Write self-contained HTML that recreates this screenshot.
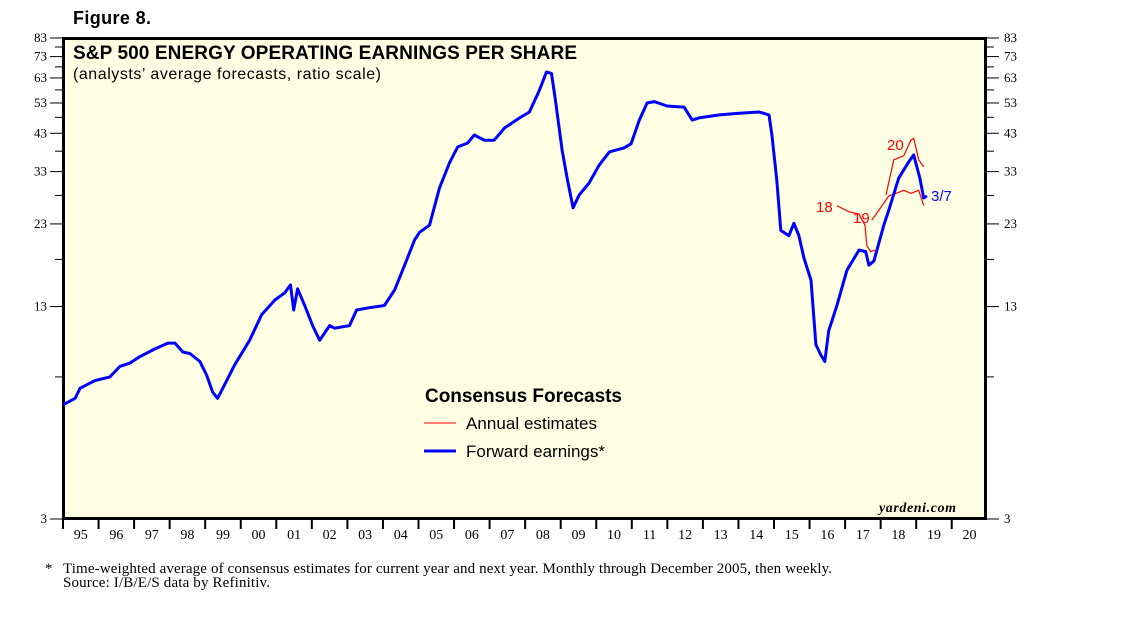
<!DOCTYPE html>
<html><head><meta charset="utf-8"><style>
body{margin:0;background:#fff;}
svg{display:block;font-family:"Liberation Sans",sans-serif;}
</style></head><body>
<svg id="chart" width="1138" height="621" viewBox="0 0 1138 621">
<text x="73" y="24" font-size="18" font-weight="bold" textLength="78">Figure 8.</text>
<rect x="63.5" y="38.5" width="922" height="480" fill="#ffffe3" stroke="#000" stroke-width="3"/>
<text x="73" y="59" font-size="19" font-weight="bold" textLength="504">S&amp;P 500 ENERGY OPERATING EARNINGS PER SHARE</text>
<text x="73" y="79" font-size="16" textLength="308">(analysts’ average forecasts, ratio scale)</text>
<g id="axes"></g>
<g id="series"></g>
<text x="425" y="402" font-size="19" font-weight="bold" textLength="197">Consensus Forecasts</text>
<line x1="424" y1="423" x2="456" y2="423" stroke="#f00" stroke-width="1"/>
<text x="466" y="429" font-size="17" textLength="131">Annual estimates</text>
<line x1="424" y1="451" x2="456" y2="451" stroke="#00f" stroke-width="3"/>
<text x="466" y="457" font-size="17" textLength="139">Forward earnings*</text>
<text x="879" y="512" font-size="14" font-weight="bold" font-style="italic" font-family="Liberation Serif,serif" textLength="77">yardeni.com</text>
<text x="816" y="212" font-size="15" fill="#f00">18</text>
<text x="853" y="223" font-size="15" fill="#f00">19</text>
<text x="887" y="150" font-size="15" fill="#f00">20</text>
<text x="931" y="201" font-size="15" fill="#00f">3/7</text>
<text x="45" y="573" font-size="15" font-family="Liberation Serif,serif">*</text>
<text x="63" y="573" font-size="15" font-family="Liberation Serif,serif" textLength="769">Time-weighted average of consensus estimates for current year and next year. Monthly through December 2005, then weekly.</text>
<text x="63" y="587" font-size="15" font-family="Liberation Serif,serif" textLength="207">Source: I/B/E/S data by Refinitiv.</text>
</svg>
<script>
const yTicks=[3,13,23,33,43,53,63,73,83];
const yMinor=[8,18,28,38,48,58,68,78];
const years=["95","96","97","98","99","00","01","02","03","04","05","06","07","08","09","10","11","12","13","14","15","16","17","18","19","20"];
const fwdDates=[1995.00,1995.34,1995.48,1995.90,1996.32,1996.60,1996.88,1997.16,1997.58,1997.95,1998.15,1998.37,1998.57,1998.85,1999.04,1999.21,1999.35,1999.55,1999.83,2000.25,2000.59,2000.96,2001.24,2001.40,2001.49,2001.60,2001.80,2002.02,2002.22,2002.50,2002.64,2003.06,2003.26,2003.62,2004.04,2004.33,2004.61,2004.89,2005.03,2005.31,2005.59,2005.87,2006.10,2006.38,2006.57,2006.85,2007.13,2007.42,2007.84,2008.12,2008.40,2008.60,2008.74,2008.85,2009.04,2009.19,2009.35,2009.52,2009.80,2010.08,2010.37,2010.79,2010.98,2011.21,2011.43,2011.63,2011.99,2012.47,2012.70,2012.89,2013.46,2014.02,2014.58,2014.86,2014.94,2015.08,2015.19,2015.42,2015.56,2015.70,2015.84,2016.04,2016.18,2016.32,2016.43,2016.54,2016.77,2017.05,2017.39,2017.58,2017.67,2017.81,2018.09,2018.23,2018.51,2018.79,2018.93,2019.10,2019.21,2019.30];
const fwdValues=[6.6,6.9,7.4,7.8,8.0,8.6,8.8,9.2,9.7,10.1,10.1,9.5,9.4,8.9,8.1,7.2,6.9,7.6,8.7,10.3,12.3,13.6,14.3,15.1,12.7,14.7,13.1,11.4,10.3,11.4,11.2,11.4,12.7,12.9,13.1,14.6,17.3,20.6,21.7,22.8,29.5,35.0,39.1,40.2,42.5,41.0,41.0,44.6,47.8,49.8,57.9,65.7,65.0,54.1,38.3,31.1,25.7,28.1,30.5,34.5,37.8,38.9,40.0,47.1,53.0,53.5,51.9,51.5,47.1,47.8,48.8,49.4,49.8,48.8,42.5,31.1,22.0,21.2,23.1,21.2,18.2,15.6,10.0,9.3,8.9,11.0,13.1,16.7,19.2,19.0,17.3,17.8,22.8,25.3,31.6,35.3,37.0,31.6,27.5,27.9];
const e18Dates=[2016.77,2017.11,2017.39,2017.56,2017.61,2017.72,2017.84];
const e18Values=[26.1,25.0,24.6,22.8,19.8,19.0,19.2];
const e19Dates=[2017.75,2017.95,2018.23,2018.51,2018.65,2018.85,2019.07,2019.21];
const e19Values=[23.6,25.3,27.9,28.6,29.0,28.4,29.0,26.1];
const e20Dates=[2018.15,2018.37,2018.65,2018.85,2018.93,2019.07,2019.21];
const e20Values=[28.1,35.8,36.8,41.0,41.5,35.8,34.1];

const NS="http://www.w3.org/2000/svg";
const X0=63,XW=35.55,YB=519,YT=38;
const L3=Math.log(3),L83=Math.log(83);
function xs(d){return X0+(d-1995)*XW;}
function ys(v){return YB-(Math.log(v)-L3)/(L83-L3)*(YB-YT);}
function mk(t,a,p){const e=document.createElementNS(NS,t);for(const k in a)e.setAttribute(k,a[k]);p.appendChild(e);return e;}
const ax=document.getElementById('axes'),sg=document.getElementById('series');
yTicks.forEach(v=>{const y=ys(v);
 const l=mk('line',{x1:50,x2:63,y1:y,y2:y,stroke:'#000','stroke-width':1},ax);
 
 
 const r=mk('line',{x1:986,x2:999,y1:y,y2:y,stroke:'#000','stroke-width':1},ax);
 
 
 const t=mk('text',{x:47,y:y+4,'font-size':13,'text-anchor':'end','font-family':'Liberation Serif,serif'},ax);t.textContent=v;
 
 
 const t2=mk('text',{x:1004,y:y+4,'font-size':13,'font-family':'Liberation Serif,serif'},ax);t2.textContent=v;
 
 
});
yMinor.forEach(v=>{const y=ys(v);
 const l=mk('line',{x1:55,x2:63,y1:y,y2:y,stroke:'#000','stroke-width':1},ax);
 
 
 const r=mk('line',{x1:986,x2:994,y1:y,y2:y,stroke:'#000','stroke-width':1},ax);
 
 
});
years.forEach((lab,i)=>{const x=xs(1995+i);
 const l=mk('line',{x1:x,x2:x,y1:519,y2:529,stroke:'#000','stroke-width':2},ax);
 
 
 const t=mk('text',{x:x+XW/2,y:539,'font-size':14,'text-anchor':'middle','font-family':'Liberation Serif,serif'},ax);t.textContent=lab;
 
 
});
function path(ds,vs){return ds.map((d,i)=>(i?'L':'M')+xs(d).toFixed(1)+','+ys(vs[i]).toFixed(1)).join('');}
const p18=mk('path',{d:path(e18Dates,e18Values),fill:'none',stroke:'#f00','stroke-width':1.2},sg);


const p19=mk('path',{d:path(e19Dates,e19Values),fill:'none',stroke:'#f00','stroke-width':1.2},sg);


const p20=mk('path',{d:path(e20Dates,e20Values),fill:'none',stroke:'#f00','stroke-width':1.2},sg);


const pf=mk('path',{d:path(fwdDates,fwdValues),fill:'none',stroke:'#00f','stroke-width':3,'stroke-linejoin':'round'},sg);


</script>
</body></html>
